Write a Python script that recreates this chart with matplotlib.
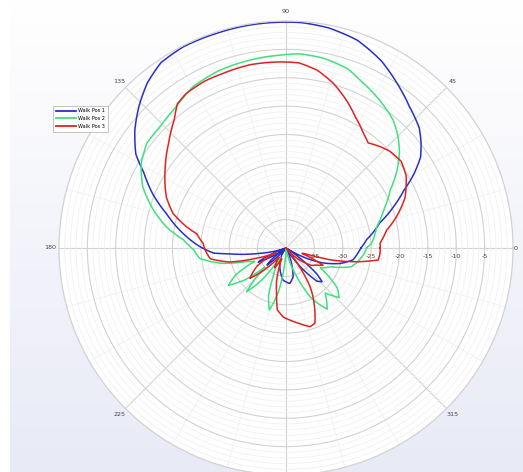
import numpy as np
import matplotlib
matplotlib.use("Agg")
import matplotlib.pyplot as plt
from matplotlib.transforms import offset_copy

# ---------------- data ----------------
series_names = ["Walk Pos 1", "Walk Pos 2", "Walk Pos 3"]

pos1_deg = [0, 6, 15, 21, 26, 30, 34, 38, 42, 49, 56, 63, 71, 79, 86, 92, 99, 108, 117,
            124, 130, 136, 142, 148, 152, 158, 164, 172, 179, 184, 186, 191.5, 195, 200,
            204, 207, 211, 215, 219, 222, 226, 232, 242, 252, 265, 276, 284, 292, 298,
            303, 308, 313, 317, 320, 324, 328, 333.5, 338, 344, 350, 356, 360]
pos1_db = [-26.8, -25.7, -22.9, -19.7, -16.9, -14.0, -11.4, -9.8, -8.4, -6.9, -5.0, -3.0,
           -1.3, -0.5, -0.2, -0.2, -0.2, -0.25, -0.2, -0.6, -2.0, -4.0, -6.2, -8.8, -11.6,
           -14.7, -18.1, -21.7, -24.8, -27.2, -30.1, -35.3, -37.5, -40.0, -36.0, -34.5,
           -37.0, -39.5, -36.5, -35.5, -38.0, -40.0, -38.0, -36.5, -34.3, -33.7, -34.8,
           -38.0, -40.0, -39.0, -35.5, -32.0, -31.3, -33.0, -37.0, -40.0, -35.9, -33.0,
           -30.1, -28.0, -27.3, -26.8]

pos2_deg = [0, 3, 13, 21, 29, 35, 40, 45, 50, 58, 65, 71, 79, 86, 92, 101, 111, 120, 128,
            136, 143, 150, 157, 164, 170, 175.5, 181, 187, 193, 199, 203, 208, 213, 218,
            222, 228, 233, 238, 245, 250, 255, 260, 266, 274, 282, 290, 297, 304, 311,
            317, 322, 330, 337, 344, 350, 355, 360]
pos2_db = [-25.8, -24.9, -23.6, -21.6, -19.0, -16.1, -13.9, -12.1, -10.6, -9.1, -7.9, -6.6,
           -5.9, -5.7, -6.0, -6.3, -6.6, -7.2, -8.5, -9.2, -9.3, -10.5, -12.6, -15.7, -18.6,
           -21.9, -23.7, -24.7, -28.1, -32.7, -34.0, -30.0, -27.9, -31.0, -35.0, -29.6,
           -33.0, -38.0, -35.0, -31.0, -28.7, -32.0, -38.0, -40.0, -39.0, -35.0, -30.0,
           -27.0, -29.5, -27.2, -28.5, -33.0, -31.5, -28.0, -27.0, -26.3, -25.8]

pos3_deg = [0, 3, 10, 16, 23, 31, 37, 43, 47, 52, 56, 62, 68, 74, 80, 86, 92, 101, 110,
            116, 123, 127, 131, 138, 147, 157, 163, 168, 171, 177, 181, 188, 194, 199,
            205, 212, 220, 226, 232, 240, 248, 254, 258, 262, 268, 273, 280, 287, 291,
            295, 299, 302, 306, 310, 318, 326, 330, 335, 338, 341, 343, 345, 349, 352.6,
            357, 360]
pos3_db = [-23.4, -23.4, -22.0, -19.7, -17.2, -15.3, -14.6, -15.0, -15.6, -16.5, -15.6,
           -13.9, -11.8, -9.8, -8.2, -7.3, -7.2, -7.1, -7.3, -7.3, -7.6, -8.2, -10.0, -12.2,
           -14.6, -17.1, -19.2, -22.1, -24.1, -25.4, -25.7, -26.5, -29.8, -34.5, -38.0,
           -34.0, -31.7, -35.0, -38.0, -36.0, -38.0, -34.0, -32.0, -29.0, -27.8, -27.3,
           -26.5, -25.5, -25.8, -28.0, -30.2, -32.0, -36.0, -40.0, -37.0, -34.5, -34.0,
           -32.8, -35.0, -37.0, -36.8, -32.0, -27.3, -23.6, -23.4, -23.4]

series_deg = [pos1_deg, pos2_deg, pos3_deg]
series_db = [pos1_db, pos2_db, pos3_db]
series_colors = ["#2a2fc4", "#3fe07e", "#e0231f"]

r_min, r_max = -40, 0
radial_ticks = [-35, -30, -25, -20, -15, -10, -5]
angle_ticks = [0, 45, 90, 135, 180, 225, 270, 315]
angle_labels = ["0", "45", "90", "135", "180", "225", "", "315"]

# ---------------- figure ----------------
W, H, DPI = 523, 472, 100
fig = plt.figure(figsize=(W / DPI, H / DPI), dpi=DPI)
fig.patch.set_facecolor("white")

# gradient background panel
bg = fig.add_axes([10 / W, 0, 1 - 10 / W, 1])
bg.set_axis_off()
top = np.array([1.0, 1.0, 1.0])
bot = np.array([0xE8, 0xEA, 0xF6]) / 255.0
t = np.linspace(0, 1, 256)[:, None]
grad = top[None, :] * (1 - t) + bot[None, :] * t
bg.imshow(np.repeat(grad[:, None, :], 2, axis=1), aspect="auto",
          extent=[0, 1, 0, 1], origin="upper")

cx, cy, R = 286, 248, 227
ax = fig.add_axes([(cx - R) / W, (H - cy - R) / H, 2 * R / W, 2 * R / H],
                  projection="polar")
ax.set_facecolor("white")
ax.set_ylim(r_min, r_max)

# grid
ax.set_xticks(np.deg2rad(angle_ticks))
ax.set_xticks(np.deg2rad([a for a in range(0, 360, 15) if a % 45]), minor=True)
ax.set_yticks(radial_ticks)
ax.set_yticks([v for v in range(r_min + 1, r_max) if v % 5], minor=True)
ax.set_xticklabels([])
ax.set_yticklabels([])
ax.tick_params(which="both", length=0)
ax.grid(which="major", color="#d2d2d2", linewidth=0.8)
ax.grid(which="minor", color="#eeeeee", linewidth=0.5)
ax.spines["polar"].set_color("#d2d2d2")
ax.spines["polar"].set_linewidth(0.9)

# curves (drawn as arcs between samples)
for name, d, v, c in zip(series_names, series_deg, series_db, series_colors):
    ln, = ax.plot(np.deg2rad(d), v, color=c, linewidth=1.1, label=name)
    ln.get_path()._interpolation_steps = 16

# radial labels (below the 0-degree line)
tr = offset_copy(ax.transData, fig=fig, x=0, y=-9, units="dots")
for v in radial_ticks:
    ax.text(0, v, str(v), transform=tr, ha="center", va="center",
            fontsize=4.6, color="#444444")

# angular labels
for a, lab in zip(angle_ticks, angle_labels):
    if not lab:
        continue
    rr = 0.4 if a == 0 else 1.6
    ax.text(np.deg2rad(a), rr, lab, ha="center", va="center", fontsize=4.6,
            color="#444444", clip_on=False)

leg = fig.legend(loc="upper left", bbox_to_anchor=(50 / W, 1 - 103 / H),
                 fontsize=3.6, frameon=True, fancybox=False, handlelength=4.0,
                 borderpad=0.6, labelspacing=0.5, handletextpad=0.6)
leg.get_frame().set_edgecolor("#aaaaaa")
leg.get_frame().set_linewidth(0.6)
for ln in leg.get_lines():
    ln.set_linewidth(1.3)

fig.savefig("out.png", dpi=DPI)
